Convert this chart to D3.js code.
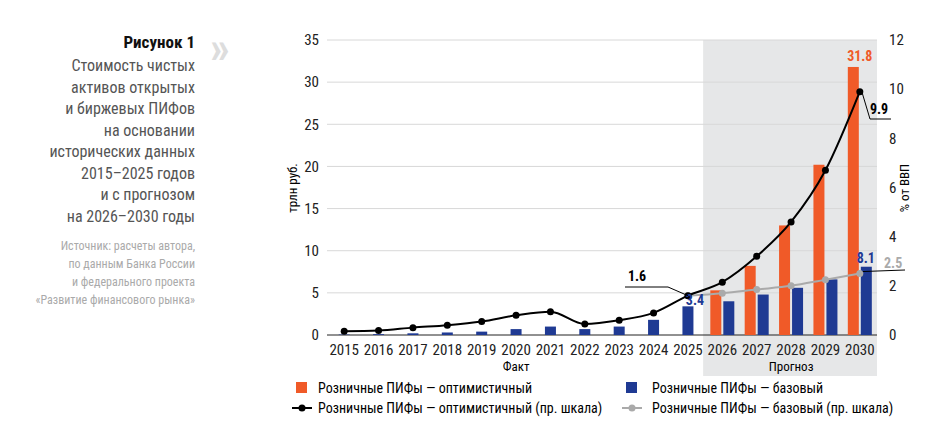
<!DOCTYPE html>
<html><head><meta charset="utf-8">
<script src="https://cdn.jsdelivr.net/npm/d3@7"></script>
<style>body{margin:0;background:#fff}text{font-family:"Roboto Condensed","Liberation Sans Narrow",Roboto,sans-serif}</style>
</head><body><svg id="c" width="934" height="438"></svg>
<script>
// данные
var years = ["2015","2016","2017","2018","2019","2020","2021","2022","2023","2024","2025","2026","2027","2028","2029","2030"];
var baseBars = [0.05,0.1,0.2,0.3,0.4,0.7,1.0,0.7,1.0,1.8,3.4,4.0,4.8,5.6,6.6,8.1];
var optYears = ["2026","2027","2028","2029","2030"];
var optBars = [5.3,8.2,13.0,20.2,31.8];
var optGdp = [0.15,0.18,0.3,0.4,0.55,0.8,0.95,0.45,0.6,0.9,1.6,2.15,3.2,4.6,6.7,9.9];
var baseGdpYears = ["2025","2026","2027","2028","2029","2030"];
var baseGdp = [1.6,1.7,1.85,2.0,2.25,2.5];
var leftTicks = [0,5,10,15,20,25,30,35];
var rightTicks = [0,2,4,6,8,10,12];

var svg = d3.select("#c");
var orange = "#f05a28", blue = "#1f3a93", gray = "#aaaaaa";

var x = d3.scaleBand().domain(years).range([327, 877]).paddingInner(0);
var y = d3.scaleLinear().domain([0, 35]).range([335, 40]);
var y2 = d3.scaleLinear().domain([0, 12]).range([335, 40]);

// серая зона прогноза
svg.append("rect").attr("x", x("2026") - 2).attr("y", 40)
    .attr("width", 877 - x("2026") + 2).attr("height", 336)
    .attr("fill", "#e6e7e8");

// сетка
svg.selectAll(".grid").data(leftTicks.slice(1)).enter().append("line")
    .attr("x1", 327).attr("x2", 877)
    .attr("y1", function (d) { return y(d); }).attr("y2", function (d) { return y(d); })
    .attr("stroke", "#d8d8d8");

// оси
var axL = svg.append("g").attr("transform", "translate(327,0)")
    .call(d3.axisLeft(y).tickValues(leftTicks).tickSize(0).tickPadding(8));
var axR = svg.append("g").attr("transform", "translate(877,0)")
    .call(d3.axisRight(y2).tickValues(rightTicks).tickSize(0).tickPadding(12));
var axB = svg.append("g").attr("transform", "translate(0,335)")
    .call(d3.axisBottom(x).tickSize(0).tickPadding(9));
[axL, axR, axB].forEach(function (a) {
    a.select(".domain").remove();
    a.selectAll("text").attr("font-size", 15).attr("fill", "#222");
});
svg.append("line").attr("x1", 327).attr("x2", 877).attr("y1", 335).attr("y2", 335).attr("stroke", "#222");

svg.append("text").attr("transform", "translate(297,188) rotate(-90)")
    .attr("text-anchor", "middle").attr("font-size", 13).text("трлн руб.");
svg.append("text").attr("transform", "translate(909,188) rotate(-90)")
    .attr("text-anchor", "middle").attr("font-size", 13).text("% от ВВП");
svg.append("text").attr("x", x("2020") + x.bandwidth() / 2).attr("y", 371)
    .attr("text-anchor", "middle").attr("font-size", 13).text("Факт");
svg.append("text").attr("x", x("2028") + x.bandwidth() / 2).attr("y", 371)
    .attr("text-anchor", "middle").attr("font-size", 13).text("Прогноз");

var bw = 11;
function bx(yr, isBase) {
    var c = x(yr) + x.bandwidth() / 2;
    if (optYears.indexOf(yr) < 0) return c - bw / 2;
    return isBase ? c + 1 : c - bw - 1;
}
svg.selectAll(".ob").data(optBars).enter().append("rect")
    .attr("x", function (d, i) { return bx(optYears[i], false); })
    .attr("y", function (d) { return y(d); }).attr("width", bw)
    .attr("height", function (d) { return y(0) - y(d); }).attr("fill", orange);
svg.selectAll(".bb").data(baseBars).enter().append("rect")
    .attr("x", function (d, i) { return bx(years[i], true); })
    .attr("y", function (d) { return y(d); }).attr("width", bw)
    .attr("height", function (d) { return y(0) - y(d); }).attr("fill", blue);

// линии
var cx = function (yr) { return x(yr) + x.bandwidth() / 2; };
var line = d3.line().curve(d3.curveMonotoneX);
var blackPts = optGdp.map(function (d, i) { return [cx(years[i]), y2(d)]; });
var grayPts = baseGdp.map(function (d, i) { return [cx(baseGdpYears[i]), y2(d)]; });
svg.append("path").attr("d", line(grayPts)).attr("fill", "none").attr("stroke", gray).attr("stroke-width", 2);
svg.selectAll(".gp").data(grayPts).enter().append("circle")
    .attr("cx", function (d) { return d[0]; }).attr("cy", function (d) { return d[1]; })
    .attr("r", 3.5).attr("fill", gray);
svg.append("path").attr("d", line(blackPts)).attr("fill", "none").attr("stroke", "#000").attr("stroke-width", 2);
svg.selectAll(".bp").data(blackPts).enter().append("circle")
    .attr("cx", function (d) { return d[0]; }).attr("cy", function (d) { return d[1]; })
    .attr("r", 3.5).attr("fill", "#000");

// подписи
function label(tx, ty, t, col, anchor) {
    svg.append("text").attr("x", tx).attr("y", ty).attr("text-anchor", anchor || "middle")
        .attr("font-size", 14).attr("font-weight", "bold").attr("fill", col).text(t);
}
label(cx("2030"), y(31.8) - 6, "31.8", orange);
label(cx("2030") + 6, y(8.1) - 4, "8.1", blue);
label(cx("2025") + 7, y(3.4) - 1, "3.4", blue);
label(637, 281, "1.6", "#000");
svg.append("polyline").attr("points", [[625, 287], [668, 287], [cx("2025"), y2(1.6)]].join(" "))
    .attr("fill", "none").attr("stroke", "#000");
label(879, 114, "9.9", "#000");
svg.append("polyline").attr("points", [[cx("2030") + 2, y2(9.9)], [870, 119], [891, 119]].join(" "))
    .attr("fill", "none").attr("stroke", "#000");
label(884, 268, "2.5", gray, "start");
svg.append("line").attr("x1", cx("2030") + 3).attr("x2", 905).attr("y1", y2(2.5) - 2).attr("y2", 270).attr("stroke", "#000");

// легенда
var lg = svg.append("g");
lg.append("rect").attr("x", 296).attr("y", 382).attr("width", 11).attr("height", 11).attr("fill", orange);
lg.append("text").attr("x", 318).attr("y", 393).attr("font-size", 14).text("Розничные ПИФы — оптимистичный");
lg.append("rect").attr("x", 626).attr("y", 382).attr("width", 11).attr("height", 11).attr("fill", blue);
lg.append("text").attr("x", 652).attr("y", 393).attr("font-size", 14).text("Розничные ПИФы — базовый");
lg.append("line").attr("x1", 292).attr("x2", 312).attr("y1", 408).attr("y2", 408).attr("stroke", "#000").attr("stroke-width", 2);
lg.append("circle").attr("cx", 302).attr("cy", 408).attr("r", 3.5).attr("fill", "#000");
lg.append("text").attr("x", 318).attr("y", 413).attr("font-size", 14).text("Розничные ПИФы — оптимистичный (пр. шкала)");
lg.append("line").attr("x1", 622).attr("x2", 642).attr("y1", 408).attr("y2", 408).attr("stroke", gray).attr("stroke-width", 2);
lg.append("circle").attr("cx", 632).attr("cy", 408).attr("r", 3.5).attr("fill", gray);
lg.append("text").attr("x", 652).attr("y", 413).attr("font-size", 14).text("Розничные ПИФы — базовый (пр. шкала)");

// заголовок слева
svg.append("text").attr("x", 195).attr("y", 48).attr("text-anchor", "end")
    .attr("font-size", 17).attr("font-weight", "bold").attr("fill", "#111").text("Рисунок 1");
var title = ["Стоимость чистых", "активов открытых", "и биржевых ПИФов", "на основании", "исторических данных", "2015–2025 годов", "и с прогнозом", "на 2026–2030 годы"];
svg.selectAll(".tt").data(title).enter().append("text")
    .attr("x", 195).attr("y", function (d, i) { return 71 + i * 21.5; })
    .attr("text-anchor", "end").attr("font-size", 16).attr("fill", "#555").text(function (d) { return d; });
var src = ["Источник: расчеты автора,", "по данным Банка России", "и федерального проекта", "«Развитие финансового рынка»"];
svg.selectAll(".src").data(src).enter().append("text")
    .attr("x", 195).attr("y", function (d, i) { return 250 + i * 18; })
    .attr("text-anchor", "end").attr("font-size", 12).attr("fill", "#aaa").text(function (d) { return d; });
svg.append("text").attr("x", 210).attr("y", 63).attr("font-size", 44).attr("font-weight", "bold")
    .attr("fill", "#ddd").text("»");
</script></body></html>
